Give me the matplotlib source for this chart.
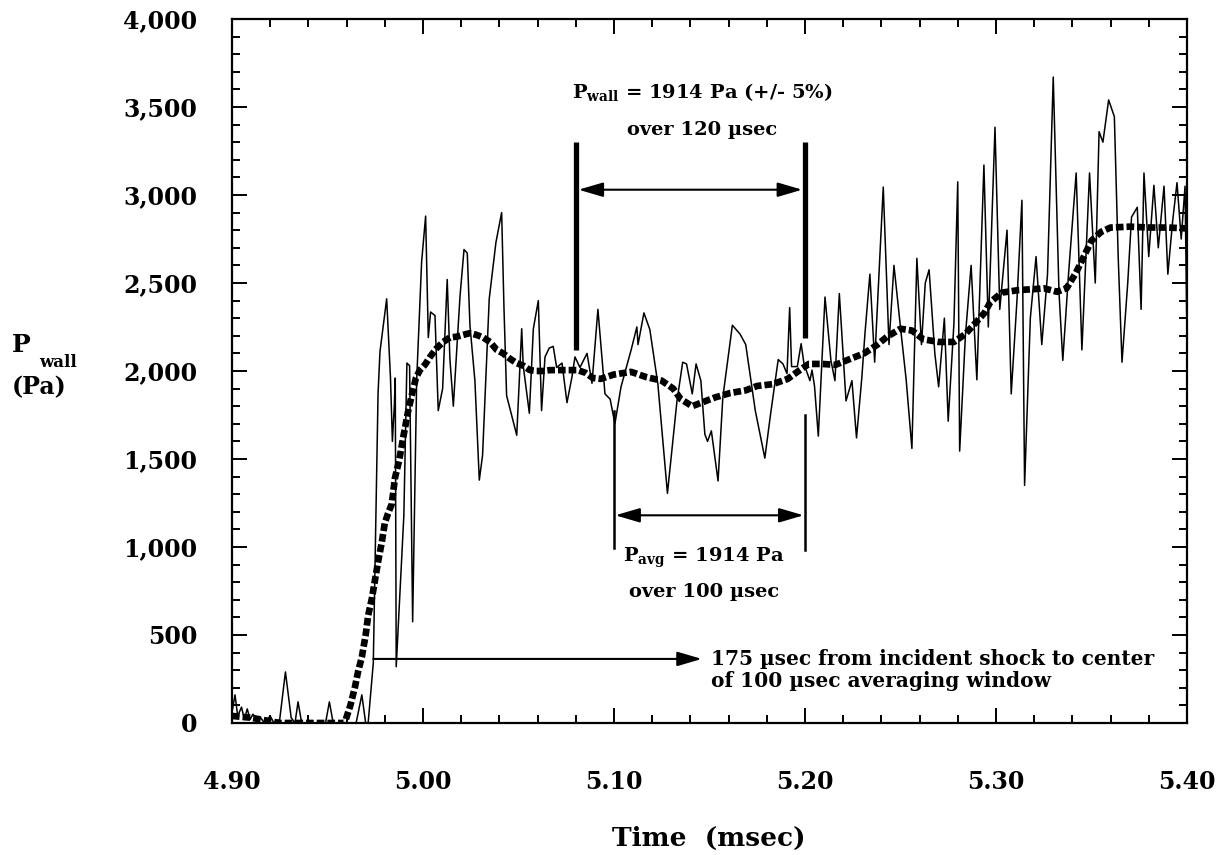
import numpy as np
import matplotlib.pyplot as plt
from matplotlib.ticker import MultipleLocator, FuncFormatter

plt.rcParams['font.family'] = 'DejaVu Serif'
plt.rcParams['font.weight'] = 'bold'
plt.rcParams['mathtext.fontset'] = 'custom'
plt.rcParams['mathtext.rm'] = 'DejaVu Serif:bold'
plt.rcParams['mathtext.bf'] = 'DejaVu Serif:bold'

# wall pressure trace (msec, Pa)
time_raw = [4.9000, 4.9016, 4.9030, 4.9050, 4.9065, 4.9080, 4.9095, 4.9110, 4.9130, 4.9150,
            4.9170, 4.9200, 4.9220, 4.9250, 4.9280, 4.9310, 4.9330, 4.9346, 4.9365, 4.9400,
            4.9450, 4.9490, 4.9510, 4.9530, 4.9570, 4.9600, 4.9650, 4.9680, 4.9700, 4.9713,
            4.9740, 4.9765, 4.9775, 4.9810, 4.9830, 4.9840, 4.9850, 4.9855, 4.9860, 4.9900,
            4.9916, 4.9930, 4.9946, 4.9967, 4.9993, 5.0014, 5.0028, 5.0040, 5.0063, 5.0080,
            5.0103, 5.0127, 5.0141, 5.0159, 5.0194, 5.0215, 5.0232, 5.0246, 5.0272, 5.0295,
            5.0312, 5.0347, 5.0382, 5.0412, 5.0424, 5.0438, 5.0491, 5.0517, 5.0525, 5.0557,
            5.0578, 5.0604, 5.0621, 5.0639, 5.0661, 5.0682, 5.0700, 5.0728, 5.0754, 5.0780,
            5.0796, 5.0822, 5.0859, 5.0885, 5.0916, 5.0953, 5.0980, 5.1005, 5.1037, 5.1090,
            5.1120, 5.1126, 5.1157, 5.1188, 5.1230, 5.1280, 5.1330, 5.1360, 5.1380, 5.1410,
            5.1430, 5.1455, 5.1476, 5.1490, 5.1510, 5.1545, 5.1570, 5.1620, 5.1660, 5.1690,
            5.1740, 5.1790, 5.1820, 5.1860, 5.1885, 5.1906, 5.1920, 5.1930, 5.1960, 5.1980,
            5.1995, 5.2026, 5.2037, 5.2050, 5.2070, 5.2105, 5.2136, 5.2157, 5.2180, 5.2215,
            5.2246, 5.2270, 5.2298, 5.2314, 5.2340, 5.2365, 5.2390, 5.2410, 5.2440, 5.2466,
            5.2500, 5.2530, 5.2560, 5.2586, 5.2610, 5.2630, 5.2650, 5.2680, 5.2700, 5.2730,
            5.2750, 5.2780, 5.2800, 5.2810, 5.2840, 5.2870, 5.2900, 5.2937, 5.2960, 5.2995,
            5.3020, 5.3058, 5.3080, 5.3110, 5.3136, 5.3150, 5.3180, 5.3210, 5.3240, 5.3270,
            5.3300, 5.3330, 5.3350, 5.3380, 5.3420, 5.3450, 5.3490, 5.3520, 5.3540, 5.3560,
            5.3590, 5.3620, 5.3640, 5.3660, 5.3690, 5.3710, 5.3740, 5.3760, 5.3775, 5.3800,
            5.3827, 5.3850, 5.3880, 5.3900, 5.3925, 5.3948, 5.3970, 5.3990, 5.4000]
p_raw = [60, 160, 40, 90, 20, 80, 20, 50, 10, 30,
         0, 40, 0, 20, 290, 30, 0, 120, 0, 0,
         0, 0, 120, 0, 0, 0, 0, 160, 0, 0,
         340, 1875, 2110, 2410, 1960, 1600, 1800, 1960, 320, 1180,
         2045, 2030, 575, 1945, 2620, 2880, 2190, 2335, 2315, 1775,
         1900, 2520, 2070, 1800, 2425, 2690, 2670, 2260, 1945, 1380,
         1520, 2410, 2730, 2900, 2365, 1860, 1635, 2240, 2030, 1760,
         2240, 2400, 1775, 2080, 2130, 2140, 2020, 2045, 1820, 1965,
         2080, 2020, 2100, 1930, 2350, 1870, 1840, 1700, 1910, 2120,
         2250, 2150, 2330, 2235, 1925, 1305, 1830, 2050, 2040, 1870,
         2040, 1945, 1640, 1600, 1660, 1375, 1850, 2260, 2210, 2150,
         1775, 1505, 1755, 2065, 2040, 1985, 2360, 2025, 2025, 2155,
         2040, 1945, 2005, 1915, 1630, 2420, 2060, 1945, 2440, 1830,
         1945, 1620, 1965, 2210, 2550, 2050, 2600, 3045, 2150, 2600,
         2250, 1950, 1560, 2640, 2150, 2500, 2575, 2100, 1910, 2300,
         1715, 2270, 3075, 1545, 2200, 2600, 1950, 3170, 2250, 3385,
         2350, 2800, 1870, 2400, 2970, 1350, 2300, 2650, 2150, 2550,
         3670, 2450, 2060, 2550, 3125, 2120, 3125, 2500, 3360, 3300,
         3540, 3445, 2650, 2050, 2500, 2875, 2930, 2350, 3125, 2650,
         3055, 2700, 3050, 2550, 2850, 3070, 2750, 3050, 2200]

# running average (dotted curve)
time_avg = [4.900, 4.910, 4.925, 4.959, 4.962, 4.9644, 4.966, 4.968, 4.970, 4.9713,
            4.9733, 4.975, 4.9765, 4.9785, 4.980, 4.9817, 4.9837, 4.9853, 4.9876, 4.9897,
            4.9923, 4.9941, 4.9963, 4.9984, 5.001, 5.0037, 5.0072, 5.0106, 5.0141, 5.0176,
            5.0211, 5.0246, 5.0281, 5.0316, 5.0351, 5.0386, 5.042, 5.0455, 5.049, 5.0525,
            5.056, 5.0595, 5.063, 5.0665, 5.070, 5.077, 5.081, 5.085, 5.089, 5.093,
            5.100, 5.109, 5.117, 5.125, 5.131, 5.135, 5.141, 5.147, 5.153, 5.161,
            5.169, 5.175, 5.183, 5.191, 5.196, 5.202, 5.209, 5.216, 5.224, 5.231,
            5.238, 5.243, 5.250, 5.256, 5.262, 5.270, 5.278, 5.284, 5.289, 5.294,
            5.297, 5.303, 5.312, 5.320, 5.325, 5.332, 5.337, 5.342, 5.346, 5.350,
            5.355, 5.360, 5.370, 5.380, 5.390, 5.400]
p_avg = [40, 30, 0, 0, 100, 205, 290, 375, 500, 610,
         710, 820, 915, 1030, 1135, 1190, 1245, 1390, 1495, 1625,
         1775, 1860, 1960, 2005, 2035, 2080, 2130, 2165, 2190, 2195,
         2205, 2215, 2205, 2190, 2165, 2120, 2100, 2070, 2045, 2030,
         2005, 2000, 2000, 2005, 2005, 2005, 2005, 1990, 1960, 1955,
         1980, 1995, 1965, 1945, 1900, 1840, 1800, 1825, 1850, 1875,
         1890, 1915, 1925, 1955, 1995, 2040, 2040, 2035, 2070, 2100,
         2150, 2195, 2240, 2230, 2180, 2165, 2165, 2210, 2270, 2330,
         2390, 2445, 2460, 2465, 2470, 2450, 2470, 2560, 2650, 2740,
         2790, 2815, 2820, 2815, 2815, 2810]

fig = plt.figure(figsize=(12.17, 8.55), dpi=100)
ax = fig.add_axes([0.1906, 0.1544, 0.7847, 0.8234])

ax.plot(time_raw, p_raw, color='black', linewidth=1.1)
ax.plot(time_avg, p_avg, color='black', linewidth=4.8,
        linestyle=(0, (1.15, 0.45)), dash_capstyle='butt')

ax.set_xlim(4.90, 5.40)
ax.set_ylim(0, 4000)

ax.xaxis.set_major_locator(MultipleLocator(0.1))
ax.xaxis.set_minor_locator(MultipleLocator(0.02))
ax.yaxis.set_major_locator(MultipleLocator(500))
ax.yaxis.set_minor_locator(MultipleLocator(100))
ax.xaxis.set_major_formatter(FuncFormatter(lambda v, p: f'{v:.2f}'))
ax.yaxis.set_major_formatter(FuncFormatter(lambda v, p: f'{int(round(v)):,}'))

ax.tick_params(which='both', direction='in', top=True, right=True, width=1.4)
ax.tick_params(which='major', length=11)
ax.tick_params(which='minor', length=6)
ax.tick_params(axis='x', which='major', pad=34, labelsize=17)
ax.tick_params(axis='y', which='major', pad=25, labelsize=17)
for s in ax.spines.values():
    s.set_linewidth(1.6)

# axis labels
fig.text(709 / 1217, 1 - 838 / 855, 'Time  (msec)', ha='center', va='center', fontsize=19)
fig.text(21 / 1217, 1 - 345 / 855, 'P', ha='center', va='center', fontsize=18)
fig.text(58 / 1217, 1 - 362 / 855, 'wall', ha='center', va='center', fontsize=12)
fig.text(39 / 1217, 1 - 387 / 855, '(Pa)', ha='center', va='center', fontsize=17)

# 120 usec window
ax.plot([5.08, 5.08], [2120, 3300], color='black', linewidth=3.8, solid_capstyle='butt')
ax.plot([5.20, 5.20], [2190, 3300], color='black', linewidth=3.8, solid_capstyle='butt')
ax.annotate('', xy=(5.20, 3030), xytext=(5.08, 3030),
            arrowprops=dict(arrowstyle='<|-|>,head_length=0.75,head_width=0.22',
                            mutation_scale=20, lw=1.5, color='black', shrinkA=2, shrinkB=2))
ax.text(5.146, 3580, r'P$_{\mathrm{wall}}$ = 1914 Pa (+/- 5%)', ha='center', va='center', fontsize=14)
ax.text(5.146, 3370, 'over 120 µsec', ha='center', va='center', fontsize=14)

# 100 usec window
ax.plot([5.10, 5.10], [995, 1770], color='black', linewidth=1.8)
ax.plot([5.20, 5.20], [985, 1750], color='black', linewidth=1.8)
ax.annotate('', xy=(5.20, 1180), xytext=(5.10, 1180),
            arrowprops=dict(arrowstyle='<|-|>,head_length=0.75,head_width=0.22',
                            mutation_scale=20, lw=1.5, color='black', shrinkA=1, shrinkB=1))
ax.text(5.147, 937, r'P$_{\mathrm{avg}}$ = 1914 Pa', ha='center', va='center', fontsize=14)
ax.text(5.147, 744, 'over 100 µsec', ha='center', va='center', fontsize=14)

# shock to window center
ax.annotate('', xy=(5.146, 364), xytext=(4.974, 364),
            arrowprops=dict(arrowstyle='-|>,head_length=0.75,head_width=0.22',
                            mutation_scale=20, lw=1.5, color='black', shrinkA=0, shrinkB=0))
ax.text(5.151, 364, '175 µsec from incident shock to center',
        ha='left', va='center', fontsize=14.5)
ax.text(5.151, 236, 'of 100 µsec averaging window',
        ha='left', va='center', fontsize=14.5)

fig.savefig('out.png', dpi=100)
plt.close(fig)
